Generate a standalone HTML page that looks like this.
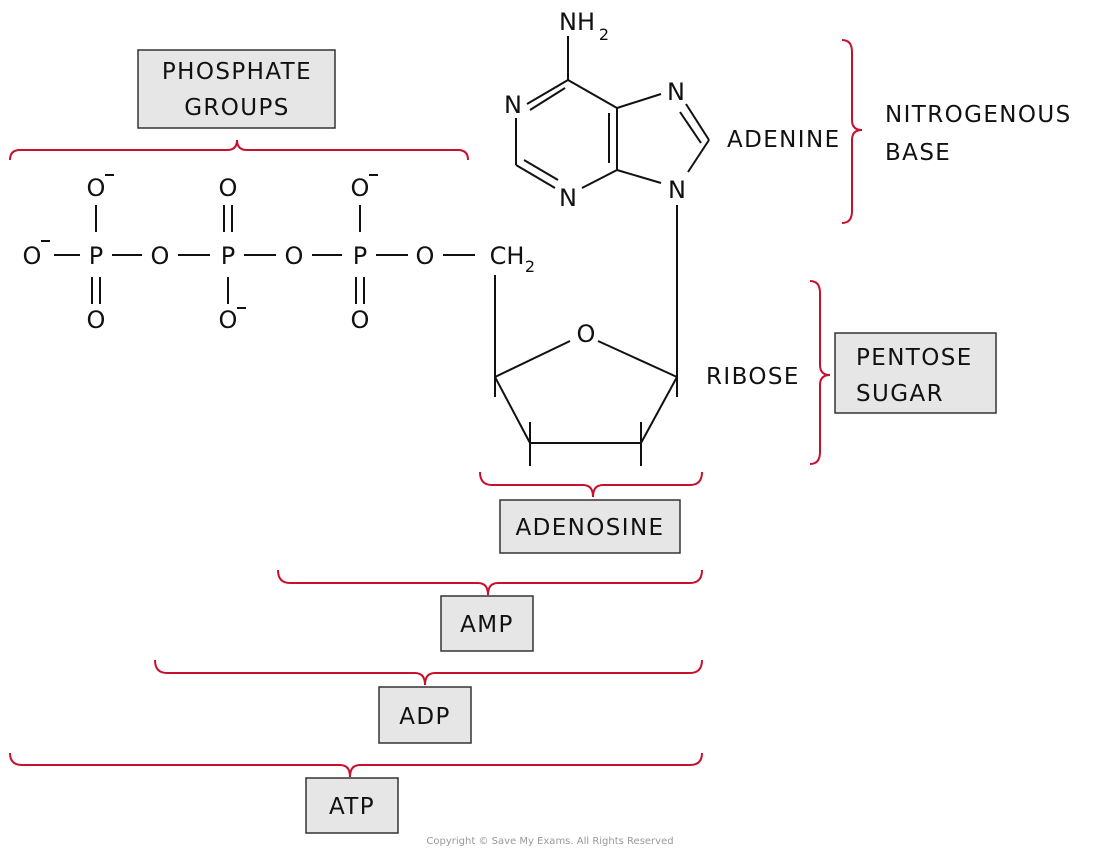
<!DOCTYPE html>
<html><head><meta charset="utf-8"><style>
html,body{margin:0;padding:0;background:#fff}
svg{display:block}
text{font-family:"DejaVu Sans","Liberation Sans",sans-serif;fill:#111}
.lb{letter-spacing:1.4px}
</style></head><body>
<svg width="1100" height="853" viewBox="0 0 1100 853" xmlns="http://www.w3.org/2000/svg">
<g stroke="#111" stroke-width="2" fill="none">
<line x1="54" y1="255" x2="80" y2="255"/><line x1="112" y1="255" x2="142" y2="255"/>
<line x1="178" y1="255" x2="210" y2="255"/><line x1="244" y1="255" x2="276" y2="255"/>
<line x1="312" y1="255" x2="342" y2="255"/><line x1="376" y1="255" x2="408" y2="255"/>
<line x1="443" y1="255" x2="475" y2="255"/>
<line x1="96" y1="205" x2="96" y2="232"/>
<line x1="224" y1="205" x2="224" y2="232"/><line x1="232" y1="205" x2="232" y2="232"/>
<line x1="360" y1="205" x2="360" y2="232"/>
<line x1="92" y1="277" x2="92" y2="304"/><line x1="100" y1="277" x2="100" y2="304"/>
<line x1="228" y1="277" x2="228" y2="304"/>
<line x1="356" y1="277" x2="356" y2="304"/><line x1="364" y1="277" x2="364" y2="304"/>
<line x1="568" y1="36" x2="568" y2="80"/>
<line x1="568" y1="80" x2="527" y2="104"/><line x1="565" y1="88" x2="530" y2="110"/>
<line x1="516" y1="118" x2="516" y2="165"/>
<line x1="516" y1="165" x2="555" y2="188"/><line x1="524" y1="160" x2="558" y2="180"/>
<line x1="582" y1="188" x2="617" y2="170"/>
<line x1="617" y1="170" x2="617" y2="108"/><line x1="609" y1="163" x2="609" y2="113"/>
<line x1="617" y1="108" x2="568" y2="80"/>
<line x1="617" y1="108" x2="661" y2="94"/>
<line x1="617" y1="170" x2="661" y2="183"/>
<line x1="686" y1="104" x2="709" y2="140"/><line x1="680" y1="112" x2="701" y2="143"/>
<line x1="709" y1="140" x2="688" y2="172"/>
<line x1="677" y1="205" x2="677" y2="397"/>
<line x1="495" y1="275" x2="495" y2="397"/>
<line x1="495" y1="377" x2="570" y2="341"/>
<line x1="598" y1="341" x2="677" y2="377"/>
<line x1="495" y1="377" x2="530" y2="443"/>
<line x1="677" y1="377" x2="641" y2="443"/>
<line x1="530" y1="443" x2="641" y2="443"/>
<line x1="530" y1="422" x2="530" y2="466"/>
<line x1="641" y1="422" x2="641" y2="466"/>
<!-- minus signs -->
<line x1="41" y1="241" x2="50" y2="241"/>
<line x1="105" y1="175" x2="114" y2="175"/>
<line x1="369" y1="175" x2="378" y2="175"/>
<line x1="237" y1="308" x2="246" y2="308"/>
</g>
<g font-size="24" text-anchor="middle">
<text x="32" y="264">O</text>
<text x="96" y="264">P</text><text x="160" y="264">O</text><text x="228" y="264">P</text>
<text x="294" y="264">O</text><text x="360" y="264">P</text><text x="425" y="264">O</text>
<text x="507" y="264">CH</text><text x="530" y="272" font-size="16">2</text>
<text x="96" y="196">O</text>
<text x="228" y="196">O</text>
<text x="360" y="196">O</text>
<text x="96" y="328">O</text><text x="228" y="328">O</text>
<text x="360" y="328">O</text>
<text x="577" y="30">NH</text><text x="604" y="40" font-size="16">2</text>
<text x="513" y="113">N</text><text x="568" y="206">N</text>
<text x="676" y="100">N</text><text x="677" y="198">N</text>
<text x="586" y="342">O</text>
</g>
<g stroke="#c8102e" stroke-width="2" fill="none">
<path d="M10,160 Q10,150 20,150 L227,150 Q237,150 237,140 Q237,150 247,150 L458,150 Q468,150 468,160"/>
<path d="M480,472 Q480,485 492,485 L583,485 Q593,485 593,497 Q593,485 603,485 L690,485 Q702,485 702,472"/>
<path d="M278,570 Q278,583 290,583 L478,583 Q488,583 488,595 Q488,583 498,583 L690,583 Q702,583 702,570"/>
<path d="M155,660 Q155,673 167,673 L415,673 Q425,673 425,685 Q425,673 435,673 L690,673 Q702,673 702,660"/>
<path d="M10,753 Q10,765 22,765 L340,765 Q350,765 350,777 Q350,765 360,765 L690,765 Q702,765 702,753"/>
<path d="M842,40 Q852,40 852,52 L852,120 Q852,130 862,130 Q852,130 852,140 L852,211 Q852,223 842,223"/>
<path d="M810,281 Q820,281 820,293 L820,365 Q820,375 830,375 Q820,375 820,385 L820,452 Q820,464 810,464"/>
</g>
<g fill="#e6e6e6" stroke="#333" stroke-width="1.5">
<rect x="138" y="50" width="197" height="78"/>
<rect x="500" y="500" width="180" height="53"/>
<rect x="441" y="596" width="92" height="55"/>
<rect x="379" y="687" width="92" height="56"/>
<rect x="306" y="778" width="92" height="55"/>
<rect x="835" y="333" width="161" height="80"/>
</g>
<g font-size="23" class="lb">
<text x="237" y="79" text-anchor="middle">PHOSPHATE</text>
<text x="237" y="115" text-anchor="middle">GROUPS</text>
<text x="590" y="535" text-anchor="middle">ADENOSINE</text>
<text x="487" y="632" text-anchor="middle">AMP</text>
<text x="425" y="724" text-anchor="middle">ADP</text>
<text x="352" y="814" text-anchor="middle">ATP</text>
<text x="856" y="365">PENTOSE</text>
<text x="856" y="401">SUGAR</text>
<text x="727" y="147">ADENINE</text>
<text x="885" y="122">NITROGENOUS</text>
<text x="885" y="160">BASE</text>
<text x="706" y="384">RIBOSE</text>
</g>
<text x="550" y="844" font-size="10" text-anchor="middle" style="fill:#999">Copyright © Save My Exams. All Rights Reserved</text>
</svg>
</body></html>
